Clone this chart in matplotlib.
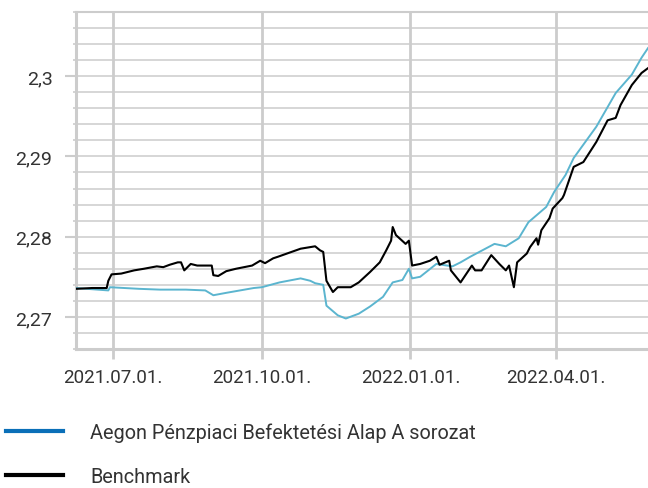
import numpy as np
import matplotlib
matplotlib.use("Agg")
import matplotlib.pyplot as plt
import matplotlib.dates as mdates
from matplotlib.lines import Line2D
from matplotlib.ticker import FixedLocator, MultipleLocator, FuncFormatter

plt.rcParams['font.family'] = ['Roboto', 'DejaVu Sans']

# alap (A sorozat) - leolvasott pontok
fund_dates = ['2021-06-08', '2021-06-28', '2021-06-29', '2021-07-17', '2021-07-30',
              '2021-08-15', '2021-08-27', '2021-09-01', '2021-09-09', '2021-09-26',
              '2021-10-01', '2021-10-12', '2021-10-25', '2021-10-31', '2021-11-03',
              '2021-11-08', '2021-11-10', '2021-11-17', '2021-11-22', '2021-11-30',
              '2021-12-07', '2021-12-15', '2021-12-21', '2021-12-27', '2021-12-31',
              '2022-01-02', '2022-01-07', '2022-01-17', '2022-01-27', '2022-02-01',
              '2022-02-07', '2022-02-22', '2022-03-01', '2022-03-09', '2022-03-15',
              '2022-03-26', '2022-03-31', '2022-04-07', '2022-04-12', '2022-04-26',
              '2022-05-08', '2022-05-18', '2022-05-24', '2022-05-28']
fund_values = [2.2736, 2.2733, 2.2737, 2.2735, 2.2734,
               2.2734, 2.2733, 2.2727, 2.2730, 2.2736,
               2.2737, 2.2743, 2.2748, 2.2745, 2.2742,
               2.2740, 2.2714, 2.2702, 2.2698, 2.2704,
               2.2713, 2.2725, 2.2743, 2.2746, 2.2760,
               2.2748, 2.2750, 2.2766, 2.2763, 2.2768,
               2.2775, 2.2791, 2.2788, 2.2798, 2.2818,
               2.2837, 2.2856, 2.2877, 2.2898, 2.2937,
               2.2979, 2.3002, 2.3023, 2.3035]

# benchmark
bench_dates = ['2021-06-08', '2021-06-18', '2021-06-27', '2021-06-28', '2021-06-30',
               '2021-07-06', '2021-07-14', '2021-07-20', '2021-07-28', '2021-08-01',
               '2021-08-05', '2021-08-10', '2021-08-12', '2021-08-14', '2021-08-18',
               '2021-08-22', '2021-08-31', '2021-09-01', '2021-09-04', '2021-09-09',
               '2021-09-15', '2021-09-25', '2021-09-30', '2021-10-03', '2021-10-08',
               '2021-10-11', '2021-10-25', '2021-10-31', '2021-11-03', '2021-11-06',
               '2021-11-08', '2021-11-10', '2021-11-14', '2021-11-17', '2021-11-25',
               '2021-11-30', '2021-12-07', '2021-12-13', '2021-12-17', '2021-12-20',
               '2021-12-21', '2021-12-23', '2021-12-29', '2021-12-31', '2022-01-02',
               '2022-01-07', '2022-01-13', '2022-01-17', '2022-01-19', '2022-01-25',
               '2022-01-26', '2022-02-01', '2022-02-08', '2022-02-10', '2022-02-14',
               '2022-02-20', '2022-02-25', '2022-03-01', '2022-03-03', '2022-03-06',
               '2022-03-08', '2022-03-14', '2022-03-16', '2022-03-20', '2022-03-21',
               '2022-03-23', '2022-03-28', '2022-03-30', '2022-04-05', '2022-04-06',
               '2022-04-12', '2022-04-18', '2022-04-26', '2022-05-03', '2022-05-08',
               '2022-05-11', '2022-05-18', '2022-05-24', '2022-05-28']
bench_values = [2.2735, 2.2736, 2.2736, 2.2745, 2.2753,
                2.2754, 2.2758, 2.2760, 2.2763, 2.2762,
                2.2765, 2.2768, 2.2768, 2.2758, 2.2766,
                2.2764, 2.2764, 2.2752, 2.2751, 2.2757,
                2.2760, 2.2764, 2.2770, 2.2767, 2.2773,
                2.2775, 2.2785, 2.2787, 2.2788, 2.2783,
                2.2781, 2.2745, 2.2731, 2.2737, 2.2737,
                2.2743, 2.2756, 2.2768, 2.2783, 2.2795,
                2.2812, 2.2802, 2.2791, 2.2795, 2.2764,
                2.2766, 2.2770, 2.2775, 2.2765, 2.2770,
                2.2758, 2.2743, 2.2764, 2.2758, 2.2758,
                2.2777, 2.2766, 2.2758, 2.2764, 2.2737,
                2.2768, 2.2779, 2.2787, 2.2798, 2.2790,
                2.2808, 2.2823, 2.2835, 2.2848, 2.2852,
                2.2887, 2.2893, 2.2918, 2.2945, 2.2948,
                2.2964, 2.2989, 2.3004, 2.3010]

quarter_ticks = ['2021-07-01', '2021-10-01', '2022-01-01', '2022-04-01']
series_names = ['Aegon Pénzpiaci Befektetési Alap A sorozat', 'Benchmark']

grid_c = '#cccccc'
text_c = '#333333'

fig = plt.figure(figsize=(6.48, 4.89), dpi=100)
ax = fig.add_axes([76 / 648, 1 - 350 / 489, 1 - 76 / 648, (350 - 13) / 489])

ax.plot(np.array(fund_dates, dtype='datetime64[D]'), fund_values, color='#5bb5cf', lw=1.4, zorder=3)
ax.plot(np.array(bench_dates, dtype='datetime64[D]'), bench_values, color='black', lw=1.5, zorder=4)

ax.set_xlim(np.datetime64('2021-06-08'), np.datetime64('2022-05-28'))
ax.set_ylim(2.266, 2.308)

# tengelyek
ax.yaxis.set_major_locator(MultipleLocator(0.01))
ax.yaxis.set_minor_locator(MultipleLocator(0.002))
ax.yaxis.set_major_formatter(FuncFormatter(lambda v, p: ('%g' % round(v, 3)).replace('.', ',')))
ax.xaxis.set_major_locator(FixedLocator(mdates.date2num(np.array(quarter_ticks, dtype='datetime64[D]'))))
ax.xaxis.set_major_formatter(mdates.DateFormatter('%Y.%m.%d.'))

ax.grid(True, which='both', axis='y', color=grid_c, lw=1.1)
ax.grid(True, which='major', axis='x', color=grid_c, lw=2)
ax.set_axisbelow(True)

ax.spines['right'].set_visible(False)
for s in ['left', 'bottom', 'top']:
    ax.spines[s].set_color(grid_c)
    ax.spines[s].set_linewidth(2.2)
ax.spines['top'].set_linewidth(1.5)

ax.tick_params(axis='y', which='major', length=8, width=1.5, color=grid_c, pad=9,
               labelsize=14, labelcolor=text_c)
ax.tick_params(axis='y', which='minor', length=2.5, width=1.2, color=grid_c)
ax.tick_params(axis='x', which='major', length=7, width=2, color=grid_c, pad=7,
               labelsize=13.5, labelcolor=text_c)

# jelmagyarázat
handles = [Line2D([], [], color='#0a6fb8', lw=3), Line2D([], [], color='black', lw=3)]
fig.legend(handles, series_names, loc='upper left', bbox_to_anchor=(6 / 648, 1 - 423 / 489),
           frameon=False, fontsize=14.3, handlelength=2.87, handletextpad=1.36,
           labelspacing=1.28, borderaxespad=0, borderpad=0, labelcolor=text_c)

fig.savefig('out.png', dpi=100)
